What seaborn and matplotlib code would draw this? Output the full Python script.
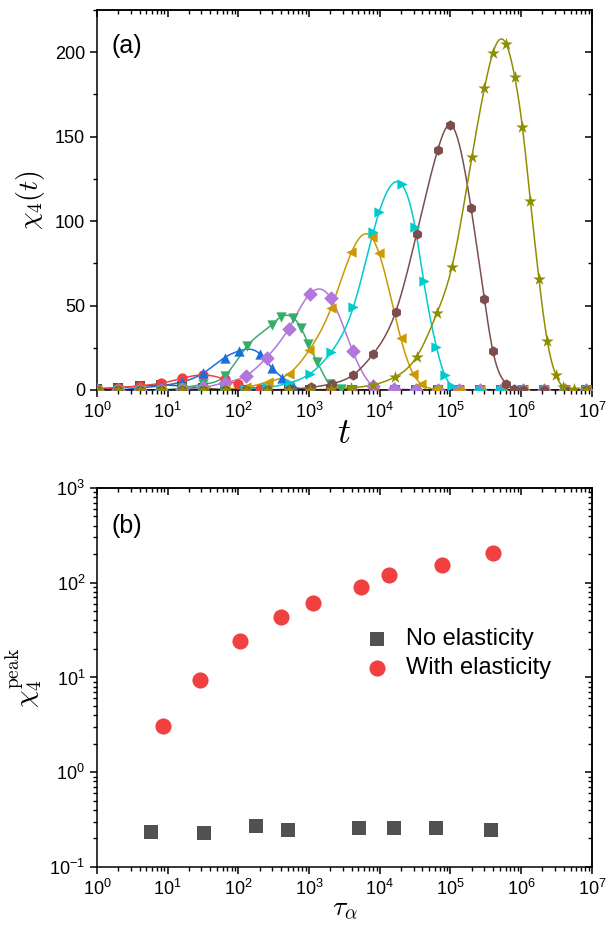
import numpy as np
import seaborn as sns
import matplotlib
matplotlib.use("Agg")
import matplotlib.pyplot as plt
from matplotlib import ticker

# ---- panel (a): chi_4(t) humps (t, chi4) ----
series_names = ["T1", "T2", "T3", "T4", "T5", "T6", "T7", "T8", "T9"]
colors = ["#515151", "#F14040", "#1A6FDF", "#37AD6B", "#B177DE",
          "#CC9900", "#00CBCC", "#7D4E4E", "#8E8E00"]
markers = ["s", "o", "^", "v", "D", "<", ">", "h", "*"]

t_gray = [1, 2, 4, 8, 16, 32, 64]
chi_gray = [0.8, 1.4, 2.3, 3.0, 2.3, 1.1, 0.3]
t_red = [2, 4, 8, 16, 32, 64, 100, 200]
chi_red = [1.2, 2.4, 4.0, 6.9, 8.9, 6.3, 3.4, 0.8]
t_blue = [4, 8, 16, 32, 64, 102, 200, 295, 420, 590]
chi_blue = [1.2, 2.5, 4.8, 10.0, 19.2, 23.1, 21.5, 13.2, 7.3, 2.5]
t_green = [16, 32, 64, 133, 295, 400, 590, 775, 980, 1300, 1950, 2800]
chi_green = [1.2, 3.4, 8.3, 26.0, 38.6, 43.3, 42.9, 36.5, 27.1, 16.6, 3.7, 0.8]
t_purple = [16, 32, 64, 127, 250, 513, 1020, 2040, 4120, 7940, 15800]
chi_purple = [0.5, 1.5, 4.3, 8.3, 19.2, 36.3, 56.8, 54.2, 23.1, 2.4, 0.3]
t_orange = [64, 127, 260, 519, 1000, 2040, 3980, 7670, 9770, 19700, 29900, 38900, 63000]
chi_orange = [0.5, 1.5, 4.7, 9.7, 23.5, 48.3, 81.5, 90.4, 80.9, 31.0, 9.3, 3.4, 0.5]
t_cyan = [126, 257, 537, 1020, 2040, 4220, 8130, 9770, 20400, 31600, 41700,
          63100, 83200, 105000]
chi_cyan = [0.5, 1.5, 4.3, 9.5, 22.3, 49.0, 93.8, 105.2, 121.7, 96.3, 64.7,
            25.7, 8.7, 2.4]
t_brown = [537, 1050, 2090, 4120, 8130, 16800, 33100, 66100, 100000, 195000,
           302000, 398000, 617000, 794000]
chi_brown = [0.5, 1.5, 3.7, 8.7, 21.5, 46.3, 92.4, 142.2, 157.0, 108.0,
             53.8, 23.0, 3.7, 0.5]
t_olive = [2040, 3980, 7940, 16400, 33100, 64600, 105000, 200000, 302000,
           398000, 610000, 813000, 1040000, 1350000, 1780000, 2340000,
           3090000, 3940000, 5620000]
chi_olive = [0.5, 1.3, 3.0, 7.7, 19.6, 45.7, 73.0, 137.7, 178.6, 199.6,
             205.0, 185.0, 155.7, 112.0, 66.0, 29.0, 8.9, 1.8, 0.3]

humps_t = [t_gray, t_red, t_blue, t_green, t_purple, t_orange, t_cyan, t_brown, t_olive]
humps_chi = [chi_gray, chi_red, chi_blue, chi_green, chi_purple, chi_orange,
             chi_cyan, chi_brown, chi_olive]

# flat part of every curve: sampled every factor 2 in time, chi4 ~ 0
base_t = 2.0 ** np.arange(24)

# ---- panel (b): peak height vs tau_alpha ----
tau_no = [5.8, 32.6, 177, 508, 5130, 15700, 62400, 371000]
peak_no = [0.235, 0.23, 0.272, 0.243, 0.261, 0.261, 0.255, 0.243]
tau_el = [8.5, 28.3, 105, 398, 1135, 5450, 13400, 77000, 400000]
peak_el = [3.1, 9.5, 24.5, 43.9, 60.5, 91, 121, 155, 207]


def natural_spline(x, y, xs):
    n = len(x)
    h = np.diff(x)
    A = np.zeros((n, n))
    r = np.zeros(n)
    A[0, 0] = A[-1, -1] = 1
    for i in range(1, n - 1):
        A[i, i - 1] = h[i - 1]
        A[i, i] = 2 * (h[i - 1] + h[i])
        A[i, i + 1] = h[i]
        r[i] = 3 * ((y[i + 1] - y[i]) / h[i] - (y[i] - y[i - 1]) / h[i - 1])
    c = np.linalg.solve(A, r)
    b = (y[1:] - y[:-1]) / h - h * (2 * c[:-1] + c[1:]) / 3
    d = (c[1:] - c[:-1]) / (3 * h)
    idx = np.clip(np.searchsorted(x, xs) - 1, 0, n - 2)
    dx = xs - x[idx]
    return y[idx] + b[idx] * dx + c[idx] * dx ** 2 + d[idx] * dx ** 3


sns.set_style("ticks")
plt.rcParams["font.family"] = ["Liberation Sans", "DejaVu Sans"]
plt.rcParams["mathtext.fontset"] = "cm"
plt.rcParams["axes.linewidth"] = 1.1
for k in ["text.color", "axes.labelcolor", "xtick.color", "ytick.color", "axes.edgecolor"]:
    plt.rcParams[k] = "black"

fig = plt.figure(figsize=(6.08, 9.27), dpi=100)
ax1 = fig.add_axes([0.1595, 0.5793, 0.814, 0.41])
ax2 = fig.add_axes([0.1595, 0.0647, 0.814, 0.409])

# ---------- (a) ----------
tfine = np.logspace(0, 7, 1500)
for name, c, m, th, ch in zip(series_names, colors, markers, humps_t, humps_chi):
    th = np.array(th, float)
    ch = np.array(ch, float)
    keep = (base_t < th.min() / 1.25) | (base_t > th.max() * 1.25)
    t_all = np.concatenate([base_t[keep], th])
    c_all = np.concatenate([np.zeros(keep.sum()), ch])
    order = np.argsort(t_all)
    t_all, c_all = t_all[order], c_all[order]
    yy = natural_spline(np.log10(t_all), c_all, np.log10(tfine))
    yy = np.clip(yy, 0, None)
    sns.lineplot(x=tfine, y=yy, ax=ax1, color=c, lw=1.1, estimator=None,
                 sort=False, zorder=2)
    size = 90 if m == "*" else 55
    sns.scatterplot(x=t_all, y=c_all, ax=ax1, marker=m, color=c, s=size,
                    linewidth=0, legend=False, zorder=3)

ax1.set_xscale("log")
ax1.set_xlim(1, 1e7)
ax1.set_ylim(0, 225)
ax1.yaxis.set_major_locator(ticker.MultipleLocator(50))
ax1.yaxis.set_minor_locator(ticker.MultipleLocator(25))
ax1.set_xlabel("$t$", fontsize=26, labelpad=-4)
ax1.set_ylabel(r"$\chi_4(t)$", fontsize=20, labelpad=6)
ax1.text(0.03, 0.905, "(a)", transform=ax1.transAxes, fontsize=18,
         ha="left", va="center")

# ---------- (b) ----------
sns.scatterplot(x=tau_no, y=peak_no, ax=ax2, marker="s", color="#515151",
                s=105, linewidth=0, label="No elasticity", zorder=3)
sns.scatterplot(x=tau_el, y=peak_el, ax=ax2, marker="o", color="#F14040",
                s=135, linewidth=0, label="With elasticity", zorder=3)
ax2.set_xscale("log")
ax2.set_yscale("log")
ax2.set_xlim(1, 1e7)
ax2.set_ylim(0.1, 1000)
ax2.set_xlabel(r"$\tau_\alpha$", fontsize=20, labelpad=-2)
ax2.set_ylabel(r"$\chi_4^{\rm peak}$", fontsize=20, labelpad=4)
ax2.text(0.03, 0.9, "(b)", transform=ax2.transAxes, fontsize=18,
         ha="left", va="center")
ax2.legend(loc="upper left", bbox_to_anchor=(0.5, 0.655), frameon=False,
           fontsize=17, handletextpad=0.2, labelspacing=0.3, borderaxespad=0,
           markerscale=1.0)

pow_fmt = ticker.FuncFormatter(lambda v, p: r"$\mathregular{10^{%d}}$" % round(np.log10(v)))
for ax in (ax1, ax2):
    ax.xaxis.set_major_locator(ticker.LogLocator(base=10, numticks=20))
    ax.xaxis.set_minor_locator(ticker.LogLocator(base=10, subs=np.arange(2, 10), numticks=20))
    ax.xaxis.set_major_formatter(pow_fmt)
    ax.xaxis.set_minor_formatter(ticker.NullFormatter())
    ax.tick_params(which="major", direction="out", length=5, width=1.1,
                   labelsize=13, top=False, right=False)
    ax.tick_params(which="minor", direction="out", length=3, width=1.0,
                   top=False, right=False)
    for s in ax.spines.values():
        s.set_visible(True)
        s.set_linewidth(1.1)

ax2.yaxis.set_major_locator(ticker.LogLocator(base=10, numticks=20))
ax2.yaxis.set_minor_locator(ticker.LogLocator(base=10, subs=np.arange(2, 10), numticks=20))
ax2.yaxis.set_major_formatter(pow_fmt)
ax2.yaxis.set_minor_formatter(ticker.NullFormatter())

# mirrored axes with inward ticks
for ax in (ax1, ax2):
    top = ax.secondary_xaxis("top")
    top.xaxis.set_major_locator(ticker.LogLocator(base=10, numticks=20))
    top.xaxis.set_minor_locator(ticker.LogLocator(base=10, subs=np.arange(2, 10), numticks=20))
    top.tick_params(which="major", direction="in", length=5, width=1.1, labeltop=False)
    top.tick_params(which="minor", direction="in", length=3, width=1.0)
    right = ax.secondary_yaxis("right")
    if ax is ax1:
        right.yaxis.set_major_locator(ticker.MultipleLocator(50))
        right.yaxis.set_minor_locator(ticker.MultipleLocator(25))
    else:
        right.yaxis.set_major_locator(ticker.LogLocator(base=10, numticks=20))
        right.yaxis.set_minor_locator(ticker.LogLocator(base=10, subs=np.arange(2, 10), numticks=20))
    right.tick_params(which="major", direction="in", length=5, width=1.1, labelright=False)
    right.tick_params(which="minor", direction="in", length=3, width=1.0)

fig.savefig("out.png", dpi=100)
